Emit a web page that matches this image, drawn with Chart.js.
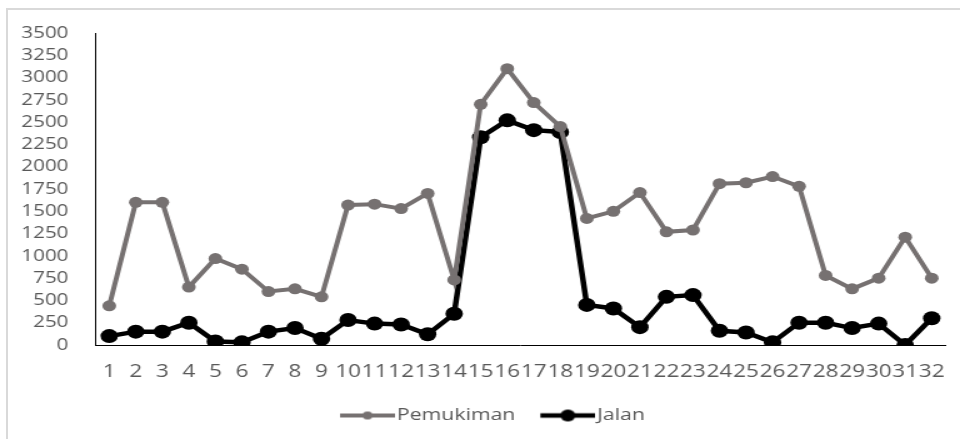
<!DOCTYPE html>
<html lang="id">
<head>
<meta charset="UTF-8">
<title>Grafik Pemukiman dan Jalan</title>
<script src="https://cdn.jsdelivr.net/npm/chart.js"></script>
<style>
  html, body { margin:0; padding:0; background:#fff; overflow:hidden; }
  .frame { position:absolute; left:6px; top:8px; width:980px; height:460px; border-left:2px solid #d9d9d9; border-top:2px solid #d9d9d9; }
  /* gambar asli kelihatan melebar, jadi kanvas ditarik horizontal */
  .wrap { position:absolute; left:0; top:0; width:768px; height:439px; transform:scaleX(1.25); transform-origin:0 0; }
</style>
</head>
<body>
<div class="frame"></div>
<div class="wrap"><canvas id="grafik"></canvas></div>

<script>
  // data
  const kategori = ['1','2','3','4','5','6','7','8','9','10','11','12','13','14','15','16',
                    '17','18','19','20','21','22','23','24','25','26','27','28','29','30','31','32'];
  const pemukiman = [440, 1600, 1600, 650, 970, 850, 600, 630, 540, 1570, 1580, 1530, 1700, 730, 2700, 3100,
                     2720, 2450, 1420, 1500, 1710, 1270, 1290, 1810, 1820, 1890, 1780, 780, 630, 750, 1210, 750];
  const jalan = [100, 150, 150, 250, 40, 30, 150, 190, 70, 280, 240, 230, 120, 350, 2330, 2520,
                 2410, 2390, 450, 410, 200, 540, 560, 160, 140, 30, 250, 250, 190, 240, 0, 300];
  const yMin = 0, yMax = 3500, yStep = 250;

  const abu = '#767171';
  const teks = '#595959';
  const huruf = "'Open Sans', sans-serif";

  // penanda legenda: garis + bulatan, ditaruh di sisi kanan kanvas kecil
  const lebarKotak = 47;
  function penanda(warna, tebal, r) {
    const c = document.createElement('canvas');
    c.width = lebarKotak + 14; c.height = 16;
    const g = c.getContext('2d');
    const x0 = c.width - 44;
    g.strokeStyle = warna; g.lineWidth = tebal;
    g.beginPath(); g.moveTo(x0, 8); g.lineTo(c.width, 8); g.stroke();
    g.fillStyle = warna;
    g.beginPath(); g.arc(x0 + 22, 8, r, 0, Math.PI * 2); g.fill();
    return c;
  }
  const ikon = [penanda(abu, 4, 4), penanda('#000', 4.5, 6)];

  // legenda di gambar asli agak ke kanan dari tengah
  const geserLegenda = {
    id: 'geserLegenda',
    afterLayout(chart) { if (chart.legend) chart.legend.left += 22; }
  };

  const ctx = document.getElementById('grafik').getContext('2d');
  new Chart(ctx, {
    type: 'line',
    data: {
      labels: kategori,
      datasets: [
        { label: 'Pemukiman', data: pemukiman, borderColor: abu, backgroundColor: abu,
          borderWidth: 4, pointRadius: 5.5, pointBackgroundColor: abu, pointBorderWidth: 0, tension: 0 },
        { label: 'Jalan', data: jalan, borderColor: '#000', backgroundColor: '#000',
          borderWidth: 4.5, pointRadius: 7, pointBackgroundColor: '#000', pointBorderWidth: 0, tension: 0 }
      ]
    },
    options: {
      responsive: true,
      maintainAspectRatio: false,
      animation: false,
      devicePixelRatio: 1,
      events: [],
      layout: { padding: { top: 33, right: 12, bottom: 5, left: 0 } },
      scales: {
        x: {
          offset: true,
          grid: { display: false },
          border: { display: true, color: '#000', width: 1 },
          ticks: { color: teks, font: { family: huruf, size: 18 }, autoSkip: false, maxRotation: 0, minRotation: 0, padding: 8 },
          afterFit: (s) => { s.height = 52; }
        },
        y: {
          min: yMin, max: yMax,
          grid: { display: false },
          border: { display: true, color: '#000', width: 1 },
          ticks: { stepSize: yStep, autoSkip: false, color: teks, font: { family: huruf, size: 16.5 }, padding: 14,
                   callback: (v) => String(v) },
          afterFit: (s) => { s.width = 76.8; }
        }
      },
      plugins: {
        tooltip: { enabled: false },
        legend: {
          position: 'bottom',
          labels: {
            usePointStyle: true,
            pointStyleWidth: lebarKotak,
            padding: 10,
            color: teks,
            font: { family: huruf, size: 17 },
            generateLabels: (chart) => {
              const items = Chart.defaults.plugins.legend.labels.generateLabels(chart);
              items.forEach((it, i) => { it.pointStyle = ikon[i]; });
              return items;
            }
          }
        }
      }
    },
    plugins: [geserLegenda]
  });
</script>
</body>
</html>
